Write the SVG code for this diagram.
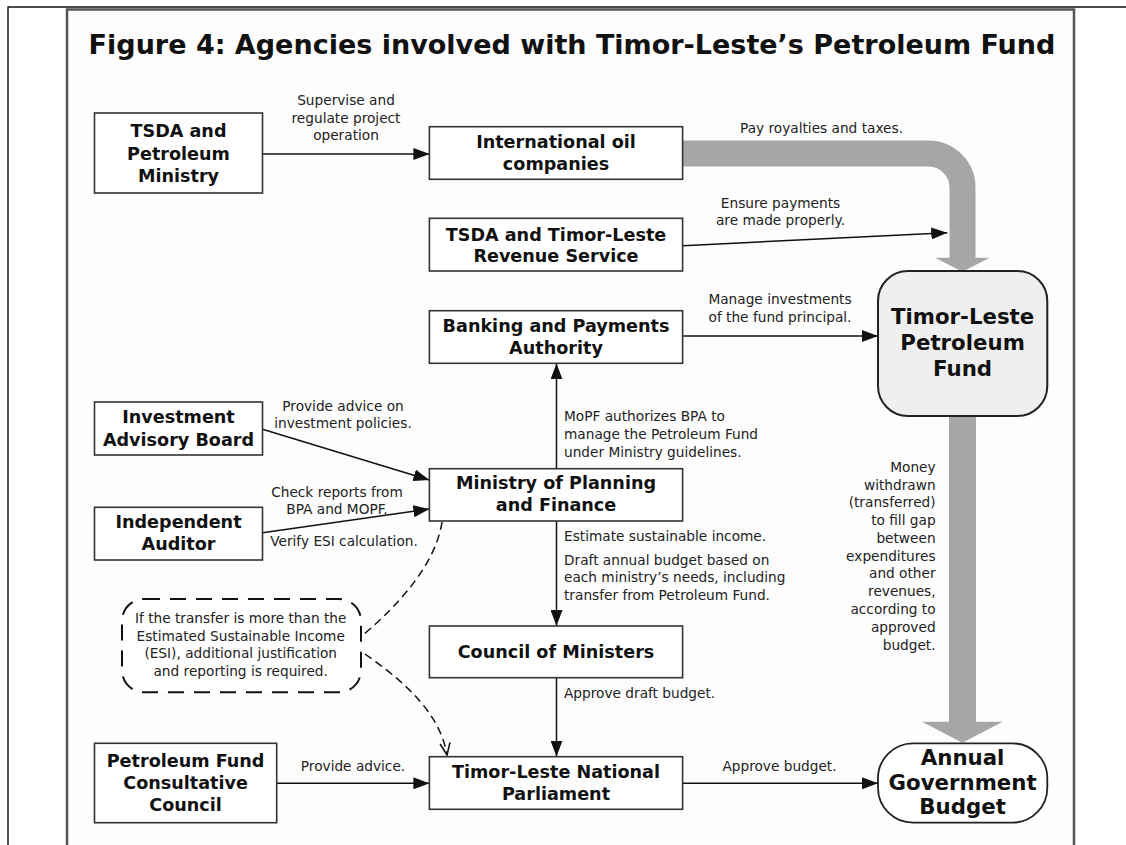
<svg xmlns="http://www.w3.org/2000/svg" width="1126" height="845" viewBox="0 0 1126 845">
<defs>
<style>
.box{fill:#fff;stroke:#333;stroke-width:1.6}
.bt{font-family:"DejaVu Sans",sans-serif;font-weight:bold;font-size:17.6px;fill:#111;text-anchor:middle}
.big{font-family:"DejaVu Sans",sans-serif;font-weight:bold;font-size:21.3px;fill:#111;text-anchor:middle}
.lb{font-family:"DejaVu Sans",sans-serif;font-size:13.7px;fill:#222}
.c{text-anchor:middle}
.r{text-anchor:end}
.ln{fill:none;stroke:#111;stroke-width:1.5}
.dash{fill:none;stroke:#111;stroke-width:1.5;stroke-dasharray:8 5}
.flow{fill:none;stroke:#a6a6a6}
</style>
<marker id="ah" viewBox="0 0 16 12" refX="16" refY="6" markerWidth="16" markerHeight="12" markerUnits="userSpaceOnUse" orient="auto">
<path d="M0,0 L16,6 L0,12 Z" fill="#111"/>
</marker>
<marker id="oh" viewBox="0 0 14 12" refX="13" refY="6" markerWidth="14" markerHeight="12" markerUnits="userSpaceOnUse" orient="auto">
<path d="M1,1 L13,6 L1,11" fill="none" stroke="#111" stroke-width="1.6"/>
</marker>
</defs>
<rect width="1126" height="845" fill="#fff"/>
<g id="frame">
<path d="M8,845 V7 H1126" fill="none" stroke="#111" stroke-width="1.4"/>
<path d="M67,845 V9.5 H1074 V845" fill="#fdfdfd" stroke="#555" stroke-width="2.5"/>
</g>
<text x="572" y="54" font-family="DejaVu Sans,sans-serif" font-weight="bold" font-size="27" fill="#111" text-anchor="middle">Figure 4: Agencies involved with Timor-Leste’s Petroleum Fund</text>

<g id="connectors">
<path class="flow" d="M683,153.5 H928.5 A34,34 0 0 1 962.5,187.5 V258.5" stroke-width="26"/>
<polygon points="935,257.7 989.5,257.7 962.5,271.7" fill="#a6a6a6"/>
<rect x="949" y="416" width="27" height="306" fill="#a6a6a6"/>
<polygon points="922,721.7 1002.7,721.7 962.4,742.7" fill="#a6a6a6"/>
<line class="ln" x1="262.5" y1="154" x2="429.4" y2="154" marker-end="url(#ah)"/>
<line class="ln" x1="683" y1="245.7" x2="947.3" y2="232.7" marker-end="url(#ah)"/>
<line class="ln" x1="683" y1="336" x2="878" y2="336" marker-end="url(#ah)"/>
<line class="ln" x1="556.5" y1="468.7" x2="556.5" y2="363.3" marker-end="url(#ah)"/>
<line class="ln" x1="262.5" y1="429.3" x2="429.4" y2="480" marker-end="url(#ah)"/>
<line class="ln" x1="262.5" y1="532.7" x2="429.4" y2="509" marker-end="url(#ah)"/>
<line class="ln" x1="556.5" y1="521" x2="556.5" y2="626" marker-end="url(#ah)"/>
<line class="ln" x1="556.5" y1="677.7" x2="556.5" y2="756.7" marker-end="url(#ah)"/>
<line class="ln" x1="276.7" y1="783.3" x2="429.4" y2="783.3" marker-end="url(#ah)"/>
<line class="ln" x1="683" y1="783.3" x2="878" y2="783.3" marker-end="url(#ah)"/>
<path class="dash" d="M442,522 C436,562 402,602 363,635"/>
<path class="dash" d="M365,654 C402,680 440,712 447,755" marker-end="url(#oh)"/>
</g>

<g id="labels">
<text class="lb c" x="346" y="105">Supervise and</text>
<text class="lb c" x="346" y="122.5">regulate project</text>
<text class="lb c" x="346" y="140">operation</text>
<text class="lb c" x="821.5" y="132.7">Pay royalties and taxes.</text>
<text class="lb c" x="780.5" y="207.7">Ensure payments</text>
<text class="lb c" x="780.5" y="225">are made properly.</text>
<text class="lb c" x="780" y="304.3">Manage investments</text>
<text class="lb c" x="780" y="322.3">of the fund principal.</text>
<text class="lb c" x="343" y="410.7">Provide advice on</text>
<text class="lb c" x="343" y="427.7">investment policies.</text>
<text class="lb" x="564" y="421">MoPF authorizes BPA to</text>
<text class="lb" x="564" y="439">manage the Petroleum Fund</text>
<text class="lb" x="564" y="457">under Ministry guidelines.</text>
<text class="lb c" x="337" y="496.7">Check reports from</text>
<text class="lb c" x="337" y="514">BPA and MOPF.</text>
<text class="lb c" x="344" y="546">Verify ESI calculation.</text>
<text class="lb" x="564" y="541">Estimate sustainable income.</text>
<text class="lb" x="564" y="565">Draft annual budget based on</text>
<text class="lb" x="564" y="582.3">each ministry’s needs, including</text>
<text class="lb" x="564" y="600">transfer from Petroleum Fund.</text>
<text class="lb" x="564" y="697.7">Approve draft budget.</text>
<text class="lb c" x="353" y="770.7">Provide advice.</text>
<text class="lb c" x="779.5" y="770.7">Approve budget.</text>
<text class="lb r" x="935.6" y="471.7">Money</text>
<text class="lb r" x="935.6" y="489.5">withdrawn</text>
<text class="lb r" x="935.6" y="507.3">(transferred)</text>
<text class="lb r" x="935.6" y="525">to fill gap</text>
<text class="lb r" x="935.6" y="542.8">between</text>
<text class="lb r" x="935.6" y="560.6">expenditures</text>
<text class="lb r" x="935.6" y="578.4">and other</text>
<text class="lb r" x="935.6" y="596.2">revenues,</text>
<text class="lb r" x="935.6" y="614">according to</text>
<text class="lb r" x="935.6" y="631.8">approved</text>
<text class="lb r" x="935.6" y="649.6">budget.</text>
</g>

<g id="callout">
<rect x="122" y="599" width="239" height="93.3" rx="22" fill="#fff" stroke="#111" stroke-width="2" stroke-dasharray="16 10"/>
<text class="lb c" x="240.7" y="622.7">If the transfer is more than the</text>
<text class="lb c" x="240.7" y="640.7">Estimated Sustainable Income</text>
<text class="lb c" x="240.7" y="658.3">(ESI), additional justification</text>
<text class="lb c" x="240.7" y="676.3">and reporting is required.</text>
</g>

<g id="tsda-petroleum">
<rect class="box" x="94.5" y="113" width="168" height="80"/>
<text class="bt" x="178.5" y="137">TSDA and</text>
<text class="bt" x="178.5" y="159.5">Petroleum</text>
<text class="bt" x="178.5" y="182">Ministry</text>
</g>
<g id="oil-companies">
<rect class="box" x="429.4" y="126.7" width="253.2" height="52.6"/>
<text class="bt" x="556" y="148">International oil</text>
<text class="bt" x="556" y="170">companies</text>
</g>
<g id="tsda-revenue">
<rect class="box" x="429.4" y="218.3" width="253.2" height="52.7"/>
<text class="bt" x="556" y="240.5">TSDA and Timor-Leste</text>
<text class="bt" x="556" y="262">Revenue Service</text>
</g>
<g id="bpa">
<rect class="box" x="429.4" y="310.7" width="253.2" height="52.6"/>
<text class="bt" x="556" y="332">Banking and Payments</text>
<text class="bt" x="556" y="354">Authority</text>
</g>
<g id="iab">
<rect class="box" x="94.5" y="402" width="168" height="53"/>
<text class="bt" x="178.5" y="423">Investment</text>
<text class="bt" x="178.5" y="445.5">Advisory Board</text>
</g>
<g id="mopf">
<rect class="box" x="429.4" y="468.7" width="253.2" height="52.3"/>
<text class="bt" x="556" y="489">Ministry of Planning</text>
<text class="bt" x="556" y="510.5">and Finance</text>
</g>
<g id="auditor">
<rect class="box" x="94.5" y="507.3" width="168" height="52.7"/>
<text class="bt" x="178.5" y="528">Independent</text>
<text class="bt" x="178.5" y="550">Auditor</text>
</g>
<g id="council">
<rect class="box" x="429.4" y="626" width="253.2" height="51.7"/>
<text class="bt" x="556" y="657.5">Council of Ministers</text>
</g>
<g id="parliament">
<rect class="box" x="429.4" y="756.7" width="253.2" height="52.6"/>
<text class="bt" x="556" y="777.5">Timor-Leste National</text>
<text class="bt" x="556" y="799.5">Parliament</text>
</g>
<g id="pfcc">
<rect class="box" x="94.5" y="743.3" width="182.2" height="79.4"/>
<text class="bt" x="185.6" y="766.5">Petroleum Fund</text>
<text class="bt" x="185.6" y="788.5">Consultative</text>
<text class="bt" x="185.6" y="810.5">Council</text>
</g>
<g id="fund">
<rect x="878" y="271" width="169.3" height="145" rx="30" fill="#efefef" stroke="#222" stroke-width="2"/>
<text class="big" x="962.6" y="323.7">Timor-Leste</text>
<text class="big" x="962.6" y="350">Petroleum</text>
<text class="big" x="962.6" y="376">Fund</text>
</g>
<g id="budget">
<rect x="878" y="743.3" width="169.3" height="79.4" rx="35" fill="#fff" stroke="#222" stroke-width="1.8"/>
<text class="big" x="962.6" y="765">Annual</text>
<text class="big" x="962.6" y="790.3">Government</text>
<text class="big" x="962.6" y="813.6">Budget</text>
</g>
</svg>
